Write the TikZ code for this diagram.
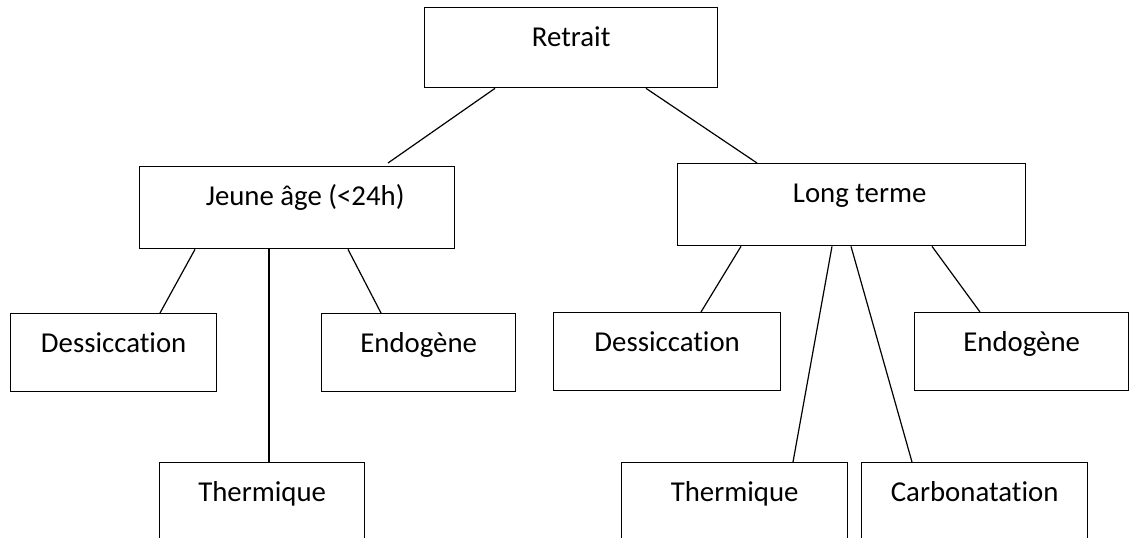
\documentclass[tikz,border=0pt]{standalone}
\usepackage{fontspec}
\setmainfont{Carlito}[Ligatures={NoCommon}]
\usetikzlibrary{calc}
\begin{document}
\begin{tikzpicture}[x=0.75pt,y=-0.75pt,
  box/.style={draw=black,line width=1pt,rectangle,inner sep=0pt,anchor=north west,
    text height=29.25pt,font=\fontsize{21.6}{26}\selectfont},
  link/.style={draw=black,line width=0.9pt}]
\useasboundingbox (0,0) rectangle (1132,537);
\clip (0,0) rectangle (1132,537);
\node[box,minimum width=219.75pt,text depth=30.75pt] (R) at (424,7) {Retrait};
\node[box,minimum width=236.25pt,text depth=32.25pt] (J) at (139,166) {\hspace*{12pt}Jeune âge (<24h)};
\node[box,minimum width=261pt,text depth=32.25pt] (L) at (677,163) {\hspace*{12pt}Long terme};
\node[box,minimum width=154.5pt,text depth=29.25pt] (DL) at (10,313) {Dessiccation};
\node[box,minimum width=145.5pt,text depth=29.25pt] (EL) at (321,313) {Endogène};
\node[box,minimum width=153.75pt,text depth=30.75pt] (TL) at (159,462) {Thermique};
\node[box,minimum width=170.25pt,text depth=29.25pt] (DR) at (553,312) {Dessiccation};
\node[box,minimum width=160.5pt,text depth=29.25pt] (ER) at (914,312) {Endogène};
\node[box,minimum width=169.5pt,text depth=30.75pt] (TR) at (621,462) {Thermique};
\node[box,minimum width=169.5pt,text depth=30.75pt] (CR) at (861,462) {Carbonatation};
\draw[link] ($(R.south west)+(71,0)$) -- ($(J.north west)+(249,-3)$);
\draw[link] ($(R.south west)+(222,0)$) -- ($(L.north west)+(80,0)$);
\draw[link] ($(J.south west)+(56,0)$) -- ($(DL.north west)+(150,0)$);
\draw[link] ($(J.south west)+(130,0)$) -- ($(TL.north west)+(110,0)$);
\draw[link] ($(J.south west)+(209,0)$) -- ($(EL.north west)+(60,0)$);
\draw[link] ($(L.south west)+(64,0)$) -- ($(DR.north west)+(148,0)$);
\draw[link] ($(L.south west)+(155,0)$) -- ($(TR.north west)+(172,0)$);
\draw[link] ($(L.south west)+(174,0)$) -- ($(CR.north west)+(51,0)$);
\draw[link] ($(L.south west)+(255,0)$) -- ($(ER.north west)+(66,0)$);
\end{tikzpicture}
\end{document}
